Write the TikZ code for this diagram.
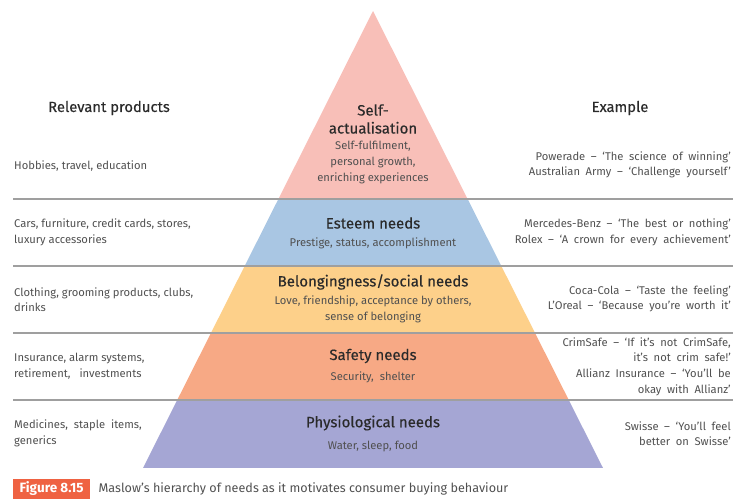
\documentclass[tikz,border=0pt]{standalone}
\usepackage{fontspec}
\usetikzlibrary{positioning}
\setmainfont{Fira Sans}
\newfontfamily\examplefont{Fira Sans}[WordSpace=1.9]
\definecolor{selfpink}{HTML}{F8BFB8}
\definecolor{esteemblue}{HTML}{A9C6E3}
\definecolor{socialyellow}{HTML}{FDD08A}
\definecolor{safetysalmon}{HTML}{F7A985}
\definecolor{physpurple}{HTML}{A5A6D4}
\definecolor{figred}{HTML}{EF6242}
\definecolor{bodygray}{HTML}{505050}
\definecolor{headgray}{HTML}{2A2A2A}
\tikzset{
  colhead/.style={font=\fontsize{14.8}{17}\selectfont\addfontfeatures{FakeBold=0.3}, text=headgray},
  prodtext/.style={anchor=west, align=left, inner sep=0pt, font=\fontsize{11.2}{15.6}\selectfont, text=bodygray},
  exampletext/.style={anchor=east, align=right, inner sep=0pt, font=\examplefont\fontsize{11.2}{15.6}\selectfont, text=bodygray},
  levelhead/.style={align=center, inner sep=0pt, font=\fontsize{15}{18}\selectfont\addfontfeatures{FakeBold=0.3}, text=headgray},
  leveltext/.style={align=center, inner sep=0pt, font=\fontsize{11.2}{15.6}\selectfont, text=bodygray},
  sepline/.style={draw=gray!75, line width=1.1pt}
}
\begin{document}
\begin{tikzpicture}[x=1pt, y=-1pt]
    \useasboundingbox (0,0) rectangle (743,501);

    % Pyramid bands
    \begin{scope}
        \clip (373,11) -- (603,468) -- (143,468) -- cycle;
        \fill[selfpink] (100,0) rectangle (650,199);
        \fill[esteemblue] (100,199) rectangle (650,266);
        \fill[socialyellow] (100,266) rectangle (650,333);
        \fill[safetysalmon] (100,333) rectangle (650,400);
        \fill[physpurple] (100,400) rectangle (650,468);
    \end{scope}

    % Separators
    \foreach \y in {199, 266, 333, 400}
        \draw[sepline] (13,\y) -- (733,\y);

    % Column heads
    \node[colhead] (prodhead) at (109,108) {Relevant products};
    \node[colhead] (exhead) at (620,108) {Example};

    % Self-actualisation
    \node[levelhead] (selfhead) at (373,119) {Self-\\actualisation};
    \node[leveltext] (selftext) at (373,162.5) {Self-fulfilment,\\personal growth,\\enriching experiences};
    \node[prodtext] (selfprod) at (14,166) {Hobbies, travel, education};
    \node[exampletext] (selfex) at (731,165) {Powerade – ‘The science of winning’\\Australian Army – ‘Challenge yourself’};

    % Esteem
    \node[levelhead] (esteemhead) at (373,223) {Esteem needs};
    \node[leveltext] (esteemtext) at (373,243) {Prestige, status, accomplishment};
    \node[prodtext] (esteemprod) at (14,232.5) {Cars, furniture, credit cards, stores,\\luxury accessories};
    \node[exampletext] (esteemex) at (731,232.5) {Mercedes-Benz – ‘The best or nothing’\\Rolex – ‘A crown for every achievement’};

    % Belongingness
    \node[levelhead] (socialhead) at (373,282) {Belongingness/social needs};
    \node[leveltext] (socialtext) at (373,309.5) {Love, friendship, acceptance by others,\\sense of belonging};
    \node[prodtext] (socialprod) at (14,299.5) {Clothing, grooming products, clubs,\\drinks};
    \node[exampletext] (socialex) at (731,299) {Coca-Cola – ‘Taste the feeling’\\L’Oreal – ‘Because you’re worth it’};

    % Safety
    \node[levelhead] (safetyhead) at (373,356) {Safety needs};
    \node[leveltext] (safetytext) at (373,377) {Security, \ shelter};
    \node[prodtext] (safetyprod) at (14,366.5) {Insurance, alarm systems,\\retirement, \ \ investments};
    \node[exampletext] (safetyex) at (731,366.5) {CrimSafe – ‘If it’s not CrimSafe,\\it’s not crim safe!’\\Allianz Insurance – ‘You’ll be\\okay with Allianz’};

    % Physiological
    \node[levelhead] (physhead) at (373,423) {Physiological needs};
    \node[leveltext] (phystext) at (373,446) {Water, sleep, food};
    \node[prodtext] (physprod) at (14,433.5) {Medicines, \ staple \ items,\\generics};
    \node[exampletext] (physex) at (731,433.5) {Swisse – ‘You’ll feel\\better on Swisse’};

    % Caption
    \node[fill=figred, text=white, font=\fontsize{13.5}{15}\selectfont\bfseries, anchor=west, minimum height=17pt, minimum width=77pt, inner xsep=2pt] (figtag) at (13,489) {Figure 8.15};
    \node[text=bodygray, font=\fontsize{12.6}{14}\selectfont, right=8pt of figtag.east, inner sep=0pt] (figcap) {Maslow’s hierarchy of needs as it motivates consumer buying behaviour};
\end{tikzpicture}
\end{document}
